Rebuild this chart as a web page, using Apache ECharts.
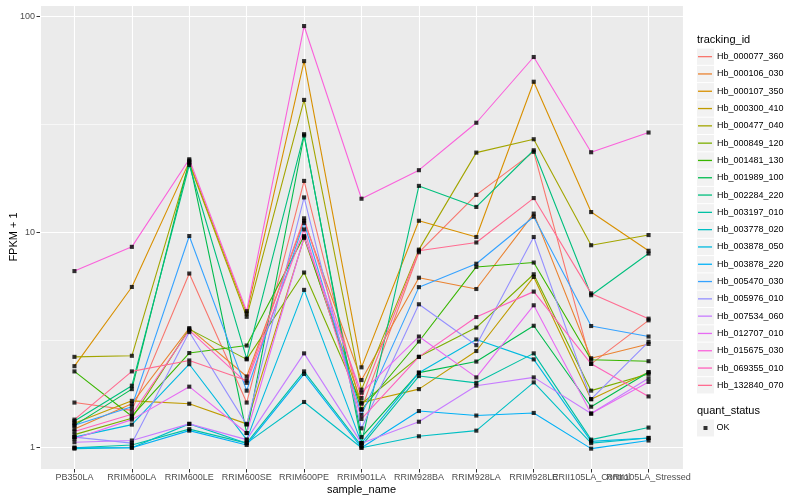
<!DOCTYPE html>
<html>
<head>
<meta charset="utf-8">
<script src="https://cdn.jsdelivr.net/npm/echarts@6/dist/echarts.min.js"></script>
<style>
html,body{margin:0;padding:0;background:#fff;}
#chart{width:800px;height:500px;}
</style>
</head>
<body>
<div id="chart"></div>
<script>
const categories = ['PB350LA','RRIM600LA','RRIM600LE','RRIM600SE','RRIM600PE','RRIM901LA','RRIM928BA','RRIM928LA','RRIM928LE','RRII105LA_Control','RRII105LA_Stressed'];

const trackingIds = ['Hb_000077_360','Hb_000106_030','Hb_000107_350','Hb_000300_410','Hb_000477_040','Hb_000849_120','Hb_001481_130','Hb_001989_100','Hb_002284_220','Hb_003197_010','Hb_003778_020','Hb_003878_050','Hb_003878_220','Hb_005470_030','Hb_005976_010','Hb_007534_060','Hb_012707_010','Hb_015675_030','Hb_069355_010','Hb_132840_070'];

const Hb_000077_360 = [1.62, 1.49, 6.43, 1.62, 17.3, 1.51, 8.07, 14.9, 23.6, 2.45, 3.9];
const Hb_000106_030 = [1.22, 1.6, 3.59, 2.14, 11.3, 2.06, 6.15, 5.45, 12.2, 2.6, 3.03];
const Hb_000107_350 = [2.39, 5.57, 21.2, 4.2, 62.2, 2.36, 11.3, 9.5, 49.9, 12.4, 8.2];
const Hb_000300_410 = [1.3, 1.65, 1.6, 1.29, 9.4, 1.62, 1.87, 2.81, 6.2, 1.68, 2.24];
const Hb_000477_040 = [2.64, 2.67, 20.9, 4.05, 41.1, 1.86, 8.3, 23.4, 27.0, 8.7, 9.7];
const Hb_000849_120 = [1.15, 1.37, 3.55, 2.57, 6.5, 1.6, 2.64, 3.61, 6.38, 1.84, 2.2];
const Hb_001481_130 = [2.26, 1.40, 2.75, 2.98, 9.6, 1.5, 3.11, 6.9, 7.23, 2.56, 2.52];
const Hb_001989_100 = [1.27, 1.87, 21.5, 1.17, 28.1, 1.12, 2.23, 2.51, 3.68, 1.55, 2.24];
const Hb_002284_220 = [1.33, 1.94, 20.5, 2.59, 28.5, 1.05, 16.4, 13.1, 24.0, 5.1, 7.96];
const Hb_003197_010 = [1.0, 1.03, 1.22, 1.05, 2.26, 1.02, 2.15, 2.0, 2.74, 1.09, 1.24];
const Hb_003778_020 = [0.99, 1.0, 1.29, 1.05, 1.63, 1.0, 1.13, 1.2, 2.01, 1.05, 1.11];
const Hb_003878_050 = [1.12, 1.28, 2.44, 1.09, 5.4, 1.05, 2.23, 3.18, 2.57, 1.07, 1.11];
const Hb_003878_220 = [1.0, 1.0, 1.2, 1.03, 2.2, 1.0, 1.48, 1.41, 1.45, 0.99, 1.08];
const Hb_005470_030 = [1.27, 1.55, 9.6, 1.84, 11.05, 1.42, 5.56, 7.14, 11.8, 3.67, 3.28];
const Hb_005976_010 = [1.12, 1.05, 3.44, 1.28, 14.5, 1.23, 4.63, 2.99, 9.5, 1.68, 3.1];
const Hb_007534_060 = [1.06, 1.08, 1.29, 1.09, 2.74, 1.05, 1.32, 1.94, 2.12, 1.44, 2.1];
const Hb_012707_010 = [1.1, 1.35, 1.92, 1.17, 9.5, 1.8, 3.28, 2.12, 4.58, 1.44, 2.02];
const Hb_015675_030 = [6.6, 8.55, 21.8, 4.3, 90.5, 14.3, 19.4, 32.2, 65, 23.5, 29.0];
const Hb_069355_010 = [1.19, 1.43, 3.5, 2.0, 10.3, 1.36, 2.64, 4.04, 5.3, 2.45, 1.73];
const Hb_132840_070 = [1.35, 2.26, 2.54, 2.05, 11.6, 1.7, 8.2, 8.96, 14.4, 5.2, 3.97];

const seriesValues = [Hb_000077_360,Hb_000106_030,Hb_000107_350,Hb_000300_410,Hb_000477_040,Hb_000849_120,Hb_001481_130,Hb_001989_100,Hb_002284_220,Hb_003197_010,Hb_003778_020,Hb_003878_050,Hb_003878_220,Hb_005470_030,Hb_005976_010,Hb_007534_060,Hb_012707_010,Hb_015675_030,Hb_069355_010,Hb_132840_070];

const yTickLabels = ['1','10','100'];
const minorBreaks = [3.1623, 31.623];

const palette = ['#F8766D','#EA8331','#D89000','#C09B00','#A3A500','#7CAE00','#39B600','#00BB4E','#00BF7D','#00C1A3','#00BFC4','#00BAE0','#00B0F6','#35A2FF','#9590FF','#C77CFF','#E76BF3','#FA62DB','#FF62BC','#FF6C91'];

const FONT = '"Liberation Sans", Arial, Helvetica, sans-serif';

const series = [];
// minor grid lines (styling only)
series.push({
  type: 'line', name: '_minor', data: [], silent: true, z: 1,
  markLine: {
    z: 1, silent: true, symbol: 'none', animation: false,
    label: {show: false},
    lineStyle: {type: 'solid', color: '#FFFFFF', width: 0.6},
    data: minorBreaks.map(v => ({yAxis: v}))
  }
});
trackingIds.forEach((id, i) => {
  series.push({
    type: 'line', name: id,
    data: seriesValues[i].map((v, j) => [j, v]),
    showSymbol: false, symbol: 'none',
    lineStyle: {color: palette[i], width: 1.1},
    itemStyle: {color: palette[i]},
    z: 2, silent: true
  });
});
const pts = [];
seriesValues.forEach(arr => arr.forEach((v, j) => pts.push([j, v])));
series.push({
  type: 'scatter', name: 'OK', data: pts,
  symbol: 'rect', symbolSize: 4.1,
  itemStyle: {color: '#000000'}, z: 3, silent: true
});

const legendTop = 48;
const legendStep = 17.3;
const graphics = [];
trackingIds.forEach((id, i) => {
  graphics.push({type: 'rect', left: 697, top: legendTop + i * legendStep + 0.5,
    shape: {width: 17, height: legendStep - 1}, style: {fill: '#F2F2F2'}, z: -1, silent: true});
});
graphics.push({type: 'rect', left: 697, top: 419.5, shape: {width: 17, height: 17}, style: {fill: '#F2F2F2'}, z: -1, silent: true});
graphics.push({type: 'text', left: 697, top: 34, style: {text: 'tracking_id', font: '11px ' + FONT, fill: '#000'}});
graphics.push({type: 'text', left: 697, top: 405, style: {text: 'quant_status', font: '11px ' + FONT, fill: '#000'}});

const option = {
  animation: false,
  backgroundColor: '#FFFFFF',
  textStyle: {fontFamily: FONT},
  grid: {left: 40, top: 5, width: 643, height: 464, show: true, backgroundColor: '#EBEBEB', borderWidth: 0, containLabel: false, outerBoundsMode: 'none'},
  xAxis: {
    type: 'value', min: -0.6, max: 10.6, splitNumber: 11,
    name: 'sample_name', nameLocation: 'middle', nameGap: 15, nameMoveOverlap: false,
    nameTextStyle: {fontSize: 11, color: '#000', fontFamily: FONT},
    axisLine: {show: false, onZero: false},
    axisTick: {show: true, length: 3.5, lineStyle: {color: '#333333', width: 1}},
    axisLabel: {
      show: true, fontSize: 9, color: '#4D4D4D', margin: 4, fontFamily: FONT,
      showMinLabel: false, showMaxLabel: false, hideOverlap: false,
      formatter: v => (Number.isInteger(v) && categories[v] !== undefined) ? categories[v] : ''
    },
    splitLine: {show: true, lineStyle: {color: '#FFFFFF', width: 1.1}}
  },
  yAxis: {
    type: 'log', logBase: 10, min: 0.7966, max: 113.3,
    name: 'FPKM + 1', nameLocation: 'middle', nameGap: 21, nameRotate: 90, nameMoveOverlap: false,
    nameTextStyle: {fontSize: 11, color: '#000', fontFamily: FONT},
    axisLine: {show: false, onZero: false},
    axisTick: {show: true, length: 3.5, lineStyle: {color: '#333333', width: 1}},
    axisLabel: {
      fontSize: 9, color: '#4D4D4D', margin: 5, fontFamily: FONT,
      showMinLabel: false, showMaxLabel: false,
      formatter: v => {
        const s = String(Math.round(v));
        return yTickLabels.indexOf(s) >= 0 && Math.abs(v - Math.round(v)) < 1e-6 ? s : '';
      }
    },
    splitLine: {show: true, lineStyle: {color: '#FFFFFF', width: 1.1}}
  },
  legend: [{
    orient: 'vertical', left: 698, top: legendTop, padding: 0, itemGap: 0,
    icon: 'rect', itemWidth: 14, itemHeight: 1.3,
    textStyle: {fontSize: 9, color: '#000', lineHeight: legendStep, fontFamily: FONT},
    data: trackingIds.map((id, i) => ({name: id, itemStyle: {color: palette[i]}})),
    selectedMode: false
  }, {
    orient: 'vertical', left: 703.5, top: 419.35, padding: 0, itemGap: 0,
    icon: 'rect', itemWidth: 4, itemHeight: 4,
    textStyle: {fontSize: 9, color: '#000', lineHeight: legendStep, fontFamily: FONT, padding: [0, 0, 0, 4]},
    data: [{name: 'OK', itemStyle: {color: '#000'}}],
    selectedMode: false
  }],
  graphic: graphics,
  series: series
};

const chart = echarts.init(document.getElementById('chart'), null, {renderer: 'canvas'});
chart.setOption(option);
</script>
</body>
</html>
